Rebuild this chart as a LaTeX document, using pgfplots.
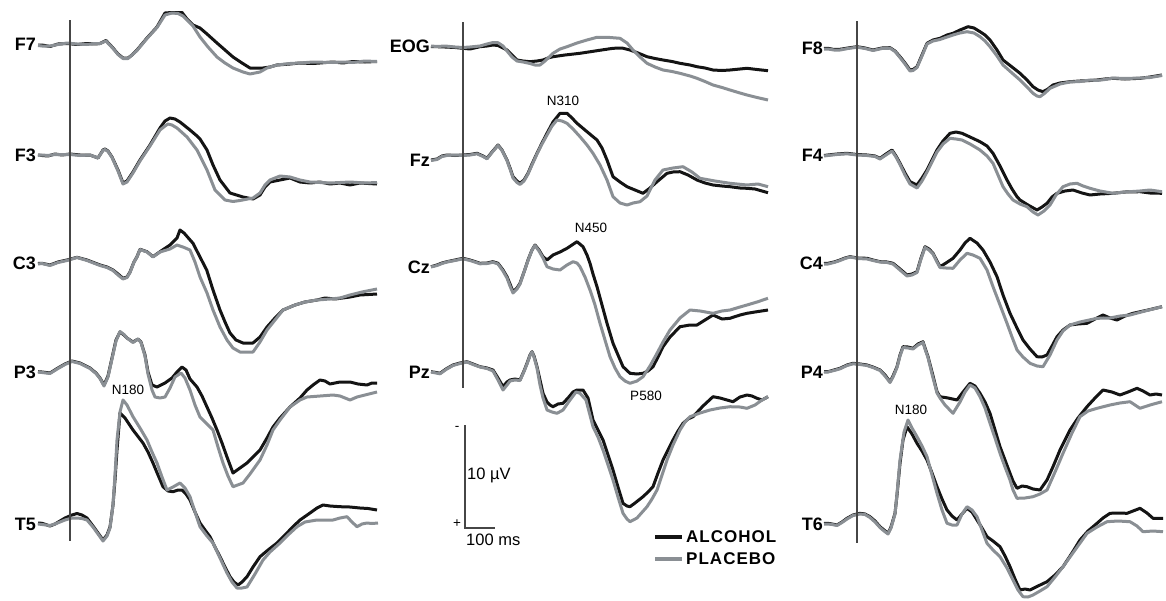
\documentclass[border=0pt]{standalone}
\usepackage{fontspec}
\setmainfont{Liberation Sans}
\newfontfamily\spaced{Liberation Sans}[LetterSpace=6]
\usepackage{pgfplots}
\pgfplotsset{compat=1.18}
\definecolor{alc}{RGB}{20,20,20}
\definecolor{pla}{RGB}{138,143,148}
\definecolor{onset}{RGB}{70,70,70}
\begin{document}
\begin{tikzpicture}
\begin{axis}[
    hide axis, scale only axis, clip=false,
    width=1166pt, height=600pt,
    xmin=0, xmax=1166, ymin=0, ymax=600, y dir=reverse,
    alco/.style={alc, line width=3pt, line join=round},
    plac/.style={pla, line width=3pt, line join=round},
    thin line/.style={onset, line width=1.4pt, forget plot},
    legend style={at={(axis cs:653,548)}, anchor=west, draw=none, fill=none,
        inner sep=0pt, row sep=5pt, font=\fontsize{17}{19}\selectfont\bfseries\spaced,
        nodes={inner sep=2pt}},
    legend cell align=left,
    legend image code/.code={\draw[#1, line width=4pt] (0pt,0pt) -- (27pt,0pt);},
]
% ---------- left column ----------
% F7
\addplot[alco] coordinates {(38,45)(42,45)(50,46.5)(58,44)(67,43.5)(77,44.5)(87,43.5)(95,44)(100,43.5)(106,40.5)(113,48)(118,54)(123,58)(128,58)(132,55)(137,50)(147,38)(157,27)(165,13)(172,12.5)(182,12.5)(187,19)(193,25)(200,28)(207,34)(217,43)(225,50)(233,57)(242,63)(250,68)(263,68)(270,67)(277,65)(290,64)(300,63)(313,63.5)(333,62)(343,63)(353,61.5)(365,62)(377,61.5)};
\addlegendentry{ALCOHOL}
\addplot[plac] coordinates {(38,45.5)(42,46)(50,46)(58,44.5)(67,43)(77,44)(87,44.5)(95,43.5)(100,43.5)(106,41)(113,48.5)(118,54.5)(123,58.5)(128,58.5)(132,55)(137,50.5)(147,38.5)(157,27.5)(165,15)(172,13)(178,13.5)(183,16)(193,26)(200,37)(208,47)(217,57)(225,63)(233,68)(243,72)(250,74)(260,72)(267,68)(277,65)(290,63.5)(300,63)(313,62)(333,62.5)(343,62)(353,62.5)(365,61)(377,61.5)};
\addlegendentry{PLACEBO}
% F3
\addplot[alco] coordinates {(38,155)(42,155.5)(48,156)(55,154)(62,155)(70,154)(80,155)(90,155)(98,158)(103,150)(105,149)(108,151)(112,157)(118,170)(123,183)(127,181)(133,172)(140,160)(150,145)(160,128)(165,121)(170,118)(175,119)(180,122)(190,130)(197,136)(200,139)(207,150)(213,165)(220,180)(230,193)(243,197)(253,199)(260,195)(265,187)(270,182)(280,180)(290,178)(300,182)(310,183)(320,182)(330,184)(340,183)(350,185)(360,183)(377,184)};
\addplot[plac] coordinates {(38,155.5)(42,155)(48,155.5)(55,154.5)(62,154.5)(70,154.5)(80,155.5)(90,155)(98,158)(103,150.5)(105,149.5)(108,151.5)(112,157.5)(118,171)(123,184)(127,182)(133,173)(140,161)(150,146)(160,130)(165,126)(168,124)(172,125)(177,128)(187,137)(197,150)(207,170)(215,190)(225,200)(233,201.5)(240,200.5)(253,198)(260,193)(265,185)(270,180)(280,176)(290,177)(300,180)(310,182)(330,183)(350,182)(365,183)(377,182.5)};
% C3
\addplot[alco] coordinates {(38,263.5)(42,263.3)(50,265)(58,262)(67,260)(77,257.3)(87,260)(100,265)(107,267)(113,270)(118,274)(123,278.3)(127,277)(130,272)(134,262)(137,256.7)(140,249.3)(147,251.7)(153,256.7)(160,251.7)(170,245)(177,238)(180,230)(184,233)(193,243.3)(200,257)(206.7,270)(213,290)(220,310)(225,322)(230,333)(236,340)(243,343)(253,343)(260,337)(267,327)(275,318)(283,310)(295,305)(305,302)(317,300)(325,298)(335,299)(350,297)(360,295)(377,294)};
\addplot[plac] coordinates {(38,264)(42,263.5)(50,265.5)(58,262.5)(67,260.5)(77,257.5)(87,260.5)(100,265.5)(107,267.5)(113,270.5)(118,275)(123,279)(127,277.5)(130,272.5)(134,262)(137,257)(140,249.5)(147,252)(153,257)(160,252)(170,249)(177,245)(183,247)(190,250)(195,262)(200,277)(207,293)(213,310)(220,327)(227,340)(233,348)(240,352)(253,352)(260,342)(267,330)(275,320)(283,310)(295,305)(305,302)(317,300)(330,299)(340,298)(350,295)(362,292)(377,289)};
% P3
\addplot[alco] coordinates {(38,371.7)(42,372)(50,373)(58,368)(65,364)(72,361)(80,363)(90,368)(96,373)(100,378)(104,385)(108,376)(112,358)(116,340)(120,332)(124,335)(127,338)(133,342)(138,339)(141,342)(145,355)(148,372)(152,385)(157,387)(165,383)(172,378)(177,372)(182,367)(186,370)(190,379)(197,387)(202,396)(207,407)(212,418)(217,430)(222,443)(227,457)(233,473)(240,468)(247,463)(253,457)(260,450)(267,438)(273,427)(280,418)(290,407)(300,398)(307,390)(313,385)(320,380)(325,381)(330,384)(340,382)(350,382)(358,384)(367,385)(372,383)(377,383)};
\addplot[plac] coordinates {(38,372)(42,372.5)(50,373.5)(58,368.5)(65,364.5)(72,361.5)(80,363.5)(90,368.5)(96,373.5)(100,378.5)(104,386)(108,377)(112,359)(116,341)(120,331.5)(124,334.5)(127,338)(133,342.5)(138,339)(141,342.5)(145,356)(148,374)(152,390)(155,397)(160,398)(165,397)(170,388)(175,377)(181,373)(185,378)(190,390)(195,405)(200,417)(207,424)(213,430)(218,447)(223,463)(228,476)(233,486.7)(243,483)(250,474)(260,460)(267,445)(273,430)(280,420)(290,407)(300,400)(307,397)(320,396)(333,395)(340,396)(350,400)(357,397)(365,395)(377,392)};
% T5
\addplot[alco] coordinates {(38,523)(42,523.3)(50,526)(55,524)(60,521)(65,518)(72,515)(77,513.5)(82,515)(87,518)(93,526)(98,533)(103,540)(107,535)(110,527)(113,505)(115,480)(117,450)(120,413)(125,418)(133,430)(143,443)(148,452)(153,463)(158,475)(163,486.7)(168,491)(173,491.7)(178,490)(182,490)(186,494)(190,500)(195,512)(200,523)(205,530)(210,536.7)(215,547)(220,556.7)(225,567)(230,576.7)(234,582)(238,585)(242,582)(247,576.7)(253,567)(260,556.7)(268,550)(277,543)(285,535)(293,526.7)(300,520)(310,513)(317,508)(323,505)(330,506)(340,506.7)(350,507)(360,508)(368,508.5)(377,510)};
\addplot[plac] coordinates {(38,524)(42,524.5)(50,525.5)(55,524)(60,522)(65,520)(72,518)(77,518)(82,518.5)(87,520)(93,527)(98,534)(103,541)(107,536)(110,528)(113,505)(115,475)(117,440)(120,412)(123,400)(127,405)(133,416.7)(140,428)(147,440)(152,452)(157,463)(162,477)(167,490)(173,487)(180,483)(185,488)(190,496.7)(195,512)(200,526.7)(207,536)(213,543)(220,558)(227,573)(232,582)(237,588)(242,588)(247,587)(255,574)(263,560)(270,552)(280,543)(288,535)(297,526.7)(305,522)(317,520)(325,520)(333,520)(340,518)(347,516.7)(352,522)(357,526.7)(362,524)(367,523)(372,523.5)(378,523)};
% ---------- middle column ----------
% EOG
\addplot[alco] coordinates {(431,46.5)(437,46.7)(445,47)(455,47.5)(463,48.3)(470,49)(480,46.7)(487,46)(493,45)(498,45.5)(503,48)(507,50)(512,55)(517,60)(523,61)(530,61.7)(537,61)(543,60)(548,58)(553,56.7)(565,55)(580,53.3)(595,51)(613,48.3)(622,48)(630,50)(638,53)(647,56.7)(655,58.5)(663,60)(672,61.5)(680,63.3)(690,65)(697,66.7)(705,68)(713,70)(722,70.5)(730,70)(740,69)(747,68.3)(757,69.5)(768,70.7)};
\addplot[plac] coordinates {(431,46)(437,46.5)(445,46)(455,47)(463,47.5)(470,47)(480,46)(487,44)(493,42.5)(498,42.7)(503,46)(507,51)(512,57)(517,61)(523,62)(530,63.5)(535,65)(540,65)(545,61)(553,53.3)(560,49)(567,46.7)(577,43)(587,40)(597,37.3)(610,37.5)(620,38.3)(627,43)(633,50)(640,57)(647,63.3)(655,67)(663,70)(672,71.5)(680,73.3)(690,76)(697,78.3)(705,81.5)(713,85)(722,87.5)(730,90)(740,93)(747,95)(757,97.5)(768,100)};
% Fz
\addplot[alco] coordinates {(431,160)(437,159)(442,156)(447,155)(455,155.5)(463,155)(470,154.5)(477,153.3)(483,156)(487,158.3)(492,152)(498,145)(502,150)(507,160)(510,168)(513,176.7)(517,181)(520,183.3)(524,180)(528,173.3)(532,164)(537,153.3)(542,143)(547,133.3)(553,122)(560,113.3)(567,113.3)(572,118)(577,123.3)(587,131.7)(597,140)(602,148)(607,160)(613,176.7)(620,182)(627,186.7)(635,190)(643,193.3)(650,188)(657,181.7)(667,173.3)(673,172)(680,171.7)(688,175)(697,180)(705,183)(713,185)(722,186)(730,186.7)(740,188)(747,188.3)(755,189)(762,191)(768,192.7)};
\addplot[plac] coordinates {(431,160.5)(437,159.5)(442,156.5)(447,155.5)(455,155)(463,155.5)(470,155)(477,153.8)(483,156.5)(487,158.8)(492,152.5)(498,145.5)(502,150.5)(507,160.5)(510,169)(513,178)(517,182.5)(520,184.5)(524,181)(528,174)(532,165)(537,154)(542,144)(547,135)(552,126)(557,120)(562,121)(567,123.3)(573,129)(580,136.7)(587,145)(593,153.3)(600,165)(607,180)(613,196.7)(620,203)(627,205)(633,203)(640,201.7)(647,196)(655,180)(663,170)(673,168)(683,166.7)(692,172)(700,178.3)(715,181)(730,183.3)(747,185)(758,184)(768,186.7)};
% Cz
\addplot[alco] coordinates {(431,266.7)(437,265)(442,263)(447,261.7)(455,260)(463,258.3)(470,260)(480,263.3)(487,263)(493,261.7)(498,263.3)(503,270)(507,276.7)(510,284)(513,291.7)(517,288)(520,283.3)(524,272)(528,260)(532,250)(535,245)(539,250)(543,256.7)(547,260)(553,255)(560,252)(567,248.3)(572,245)(577,241.7)(583,246.7)(587,255)(590,263.3)(593,274)(597,286.7)(602,305)(607,323.3)(613,343.3)(618,355)(623,366.7)(630,373.3)(637,374)(643,373.3)(648,371)(653,366.7)(658,357)(663,346.7)(670,337)(680,326.7)(690,325)(697,325)(705,320)(713,315)(722,319)(730,318.3)(740,315)(747,313.3)(755,312)(768,310)};
\addplot[plac] coordinates {(431,267)(437,265.5)(442,263.5)(447,262)(455,260.5)(463,258.8)(470,260.5)(480,263.8)(487,263.5)(493,262.3)(498,264)(503,271)(507,278)(510,286)(513,293)(517,289)(520,284)(524,272)(528,260.5)(532,250)(535,245.5)(539,251)(543,258)(547,266.7)(553,269)(560,270)(567,265)(573,261.7)(577,263)(580,266.7)(585,277)(590,290)(595,305)(600,323.3)(605,340)(610,356.7)(615,368)(620,376.7)(625,381)(630,383.3)(637,381)(643,376.7)(650,366)(657,353.3)(663,342)(670,330)(680,318)(690,310)(700,311)(713,313.3)(722,311)(730,310)(740,307)(747,305)(757,302)(768,298.3)};
% Pz
\addplot[alco] coordinates {(431,371.7)(436,372.5)(440,373.3)(446,369)(453,365)(460,363)(467,361.7)(473,364)(480,366.7)(487,368)(493,370)(498,378)(503,386.7)(507,382)(510,380)(515,379)(520,380)(524,371)(527,363.3)(530,355)(532,351.7)(534,356)(537,366.7)(540,380)(543,393.3)(547,402)(550,405)(553,406.7)(558,404)(563,403.3)(568,398)(573,392)(577,390)(583,390)(588,398)(593,420)(598,430)(603,440)(608,455)(613,470)(618,487)(623,503.3)(627,506)(630,506.7)(635,503)(643,496.7)(648,492)(653,486.7)(658,473)(663,460)(668,450)(673,440)(678,431)(683,423.3)(688,419)(693,416.7)(703,406)(713,396.7)(720,398)(727,400)(733,401.7)(740,397)(747,395)(752,396)(757,398.3)(762,400)(768,396.7)};
\addplot[plac] coordinates {(431,372)(436,373)(440,373.8)(446,369.5)(453,365.5)(460,363.5)(467,362)(473,364.5)(480,367)(487,368.5)(493,371)(498,380)(503,390)(507,385)(510,381)(515,380)(520,380.5)(524,371.5)(527,364)(530,355.5)(532,352)(534,357)(537,368)(540,385)(543,398)(547,410)(552,412)(557,413.3)(563,410)(570,400)(576,392)(580,393.3)(586,400)(593,426.7)(598,437)(603,450)(608,465)(613,480)(618,497)(623,513.3)(627,519)(630,521.7)(637,518)(647,506.7)(652,499)(657,490)(662,475)(667,460)(673,445)(680,430)(685,422)(690,416.7)(700,413)(710,410)(720,408)(730,406.7)(740,407)(747,408.3)(755,405)(762,400)(768,396.7)};
% ---------- right column ----------
% F8
\addplot[alco] coordinates {(824,48.5)(828,48.3)(834,49.5)(840,49.3)(848,48)(857,46.7)(865,48)(873,50)(882,48)(890,47.7)(895,51)(900,56.7)(905,63)(910,70)(913,69.5)(917,66.7)(922,55)(927,43.3)(933,40)(940,38.3)(947,35)(953,33.3)(960,30)(968,26.7)(974,28)(980,31.7)(985,35)(990,40)(997,50)(1003,60)(1012,67)(1020,73.3)(1027,80)(1033,86.7)(1038,90)(1043,91.7)(1048,89)(1053,85)(1060,83)(1070,81.7)(1080,81)(1090,80.5)(1097,80)(1105,79)(1113,78.3)(1125,79)(1140,78.3)(1150,77)(1162,75)};
\addplot[plac] coordinates {(824,49)(828,49)(834,50)(840,50)(848,48.5)(857,47.2)(865,48.5)(873,50.5)(882,48.5)(890,48.2)(895,51.5)(900,57.5)(905,64)(910,71)(913,70.5)(917,67.5)(922,56)(927,44)(933,41)(940,39.5)(947,37)(953,35)(960,33)(967,31.7)(974,33)(980,36.7)(985,41)(990,46.7)(997,56)(1003,65)(1012,73)(1020,80)(1027,87)(1033,93.3)(1037,96)(1040,96.7)(1045,93)(1050,88.3)(1060,84)(1070,82)(1080,81.5)(1090,80)(1097,80.5)(1105,79.5)(1113,78)(1125,78.5)(1140,78)(1150,77.5)(1162,75.5)};
% F4
\addplot[alco] coordinates {(824,155.5)(828,155)(837,154)(847,153.3)(857,154.5)(867,155)(875,156)(880,158.3)(886,154)(892,150)(896,156)(900,163.3)(905,173)(910,181.7)(917,185)(922,178)(927,170)(932,160)(937,150)(943,141)(950,133.3)(956,132)(962,133.3)(970,137)(980,141.7)(987,146)(993,153.3)(1000,166)(1007,180)(1012,189)(1017,196.7)(1020,200)(1028,205)(1037,210)(1042,207)(1047,203.3)(1052,197)(1057,193.3)(1065,191)(1073,190)(1082,193)(1090,195)(1100,194)(1113,193.3)(1125,192)(1140,191.7)(1150,193)(1162,193.3)};
\addplot[plac] coordinates {(824,156)(828,155.5)(837,154.5)(847,153.8)(857,155)(867,155.5)(875,156.5)(880,159)(886,155)(892,151)(896,157)(900,164.5)(905,175)(910,184)(917,188)(922,181)(927,172)(932,162)(937,152)(943,144)(950,138.3)(956,139)(962,140)(970,144)(980,150)(987,156)(993,163.3)(998,175)(1003,186.7)(1008,194)(1013,200)(1020,204)(1027,206.7)(1033,212)(1038,215)(1044,211)(1050,205)(1056,195)(1063,186.7)(1070,184)(1077,183.3)(1083,186)(1090,188.3)(1100,191)(1113,193.3)(1125,192)(1140,191)(1150,190)(1162,191.7)};
% C4
\addplot[alco] coordinates {(824,263.5)(828,263.3)(834,262)(840,260)(845,258)(850,256.7)(858,258)(867,258.3)(873,260)(880,261.7)(887,262)(893,263.3)(900,269)(907,275)(912,274)(917,271.7)(921,258)(925,246.7)(929,249)(933,253.3)(937,261)(940,266.7)(946,263)(953,258.3)(960,250)(965,243)(970,238.3)(977,243)(983,250)(990,262)(997,276.7)(1003,295)(1010,313.3)(1017,328)(1023,340)(1030,349)(1037,356.7)(1042,357)(1047,355)(1052,346)(1057,336.7)(1063,330)(1070,325)(1078,324)(1087,323.3)(1095,319)(1103,315)(1110,318)(1117,320)(1125,316)(1133,313.3)(1148,310)(1162,306.7)};
\addplot[plac] coordinates {(824,264)(828,264)(834,262.5)(840,260.5)(845,258.5)(850,257)(858,258.5)(867,259)(873,260.5)(880,262)(887,262.5)(893,264)(900,270)(907,276)(912,275)(917,272.5)(921,259)(925,247.5)(929,250)(933,254)(937,262)(940,267.5)(946,268)(953,268.3)(960,260)(967,253.3)(973,255)(980,258.3)(987,270)(993,286.7)(1000,305)(1007,323.3)(1012,337)(1017,350)(1023,357)(1030,363.3)(1037,366)(1043,366.7)(1050,355)(1057,340)(1063,331)(1070,325)(1080,322)(1097,318.3)(1110,318)(1120,316)(1130,315)(1145,311)(1162,306.7)};
% P4
\addplot[alco] coordinates {(824,371.5)(828,371.7)(834,370)(840,368.3)(847,365)(853,363.3)(860,364)(867,365)(873,367)(880,370)(885,375)(890,381.7)(893,376)(897,366.7)(900,355)(903,346.7)(908,347)(913,348.3)(918,344)(923,341.7)(925,348)(928,356.7)(932,372)(937,391.7)(940,396.7)(948,398)(957,400)(963,392)(970,383.3)(975,386)(980,393.3)(985,402)(990,413.3)(995,430)(1000,446.7)(1005,460)(1010,473.3)(1013,481)(1017,488.3)(1022,486)(1027,486.7)(1033,489)(1040,490)(1047,480)(1053,466.7)(1060,450)(1070,430)(1078,418)(1087,406.7)(1095,398)(1103,390)(1112,392)(1120,395)(1128,392)(1137,388.3)(1143,391)(1150,395)(1156,394)(1162,395)};
\addplot[plac] coordinates {(824,372)(828,372)(834,370.5)(840,368.8)(847,365.5)(853,363.8)(860,364.5)(867,365.5)(873,367.5)(880,370.5)(885,376)(890,382.5)(893,377)(897,367.5)(900,356)(903,347.5)(908,348)(913,349)(918,345)(923,342.5)(925,349)(928,357.5)(932,374)(937,393)(940,398)(945,405)(953,413.3)(960,402)(965,392)(970,385)(975,388)(980,396.7)(985,408)(990,423.3)(995,438)(1000,453.3)(1005,467)(1010,480)(1013,490)(1017,498.3)(1025,498)(1033,496.7)(1040,494)(1047,490)(1055,472)(1063,453.3)(1072,433)(1080,416.7)(1088,411)(1097,408.3)(1110,405)(1120,403)(1130,401.7)(1135,405)(1140,408.3)(1150,405)(1162,401.7)};
% T6
\addplot[alco] coordinates {(824,523.5)(828,523.3)(832,524)(837,525)(842,522)(847,518.3)(853,515)(860,513.3)(865,514)(870,516.7)(875,521)(880,526.7)(884,530)(888,533.3)(891,527)(895,513.3)(897,495)(900,463.3)(903,440)(907,426.7)(912,434)(917,443.3)(922,451)(927,460)(932,473)(937,486.7)(942,499)(947,510)(952,516)(957,520)(962,514)(967,508.3)(972,512)(977,520)(982,528)(987,536.7)(993,541)(1000,546.7)(1005,556)(1010,566.7)(1015,579)(1020,590)(1025,589)(1030,590)(1038,586)(1047,581.7)(1055,575)(1063,566.7)(1072,553)(1080,540)(1088,531)(1097,523.3)(1103,518)(1110,513.3)(1118,513)(1127,513.3)(1133,511)(1140,508.3)(1147,513)(1153,518.3)(1163,518.3)};
\addplot[plac] coordinates {(824,524)(828,524)(832,524.5)(837,525.5)(842,522.5)(847,519)(853,515.5)(860,514)(865,514.5)(870,517.5)(875,522)(880,527.5)(884,531)(888,534)(891,528)(895,514)(897,494)(900,460)(904,432)(908,420)(912,428)(917,436.7)(922,446)(927,456.7)(932,475)(937,493.3)(942,510)(947,523.3)(952,525)(957,525)(962,514)(967,506.7)(972,510)(977,516.7)(982,530)(987,543.3)(993,550)(1000,556.7)(1007,568)(1013,580)(1018,590)(1023,596.7)(1028,597)(1033,595)(1040,591)(1047,586.7)(1055,577)(1063,566.7)(1075,550)(1087,533.3)(1097,527)(1107,521.7)(1118,521)(1130,521.7)(1137,526)(1143,531.7)(1153,531)(1163,531.7)};
% ---------- stimulus onset lines and scale bar ----------
\addplot[thin line] coordinates {(70,20)(70,541)};
\addplot[thin line] coordinates {(463,22)(463,388)};
\addplot[thin line] coordinates {(857,21)(857,543)};
\addplot[thin line] coordinates {(465,425)(465,528)(495,528)};
% ---------- text ----------
\begin{scope}[every node/.style={font=\fontsize{18}{20}\selectfont\bfseries, anchor=east, inner sep=1pt}]
\node at (axis cs:37,44) {F7};
\node at (axis cs:37,155) {F3};
\node at (axis cs:37,263) {C3};
\node at (axis cs:37,372) {P3};
\node at (axis cs:37,524) {T5};
\node at (axis cs:431,46) {EOG};
\node at (axis cs:431,160) {Fz};
\node at (axis cs:431,267) {Cz};
\node at (axis cs:431,372) {Pz};
\node at (axis cs:824,48) {F8};
\node at (axis cs:824,155) {F4};
\node at (axis cs:824,263) {C4};
\node at (axis cs:824,372) {P4};
\node at (axis cs:824,524) {T6};
\end{scope}
\begin{scope}[every node/.style={font=\fontsize{13.5}{15}\selectfont, inner sep=0pt}]
\node at (axis cs:563,101) {N310};
\node at (axis cs:591,228) {N450};
\node at (axis cs:646,396) {P580};
\node at (axis cs:128,390) {N180};
\node at (axis cs:911,410) {N180};
\node at (axis cs:457,428) {-};
\node at (axis cs:457,524) {+};
\end{scope}
\begin{scope}[every node/.style={font=\fontsize{16.5}{18}\selectfont, inner sep=0pt, anchor=west}]
\node at (axis cs:467,475) {10 µV};
\node at (axis cs:466,540) {100 ms};
\end{scope}
\end{axis}
\pgfresetboundingbox
\path (current axis.south west) rectangle (current axis.north east);
\end{tikzpicture}
\end{document}
